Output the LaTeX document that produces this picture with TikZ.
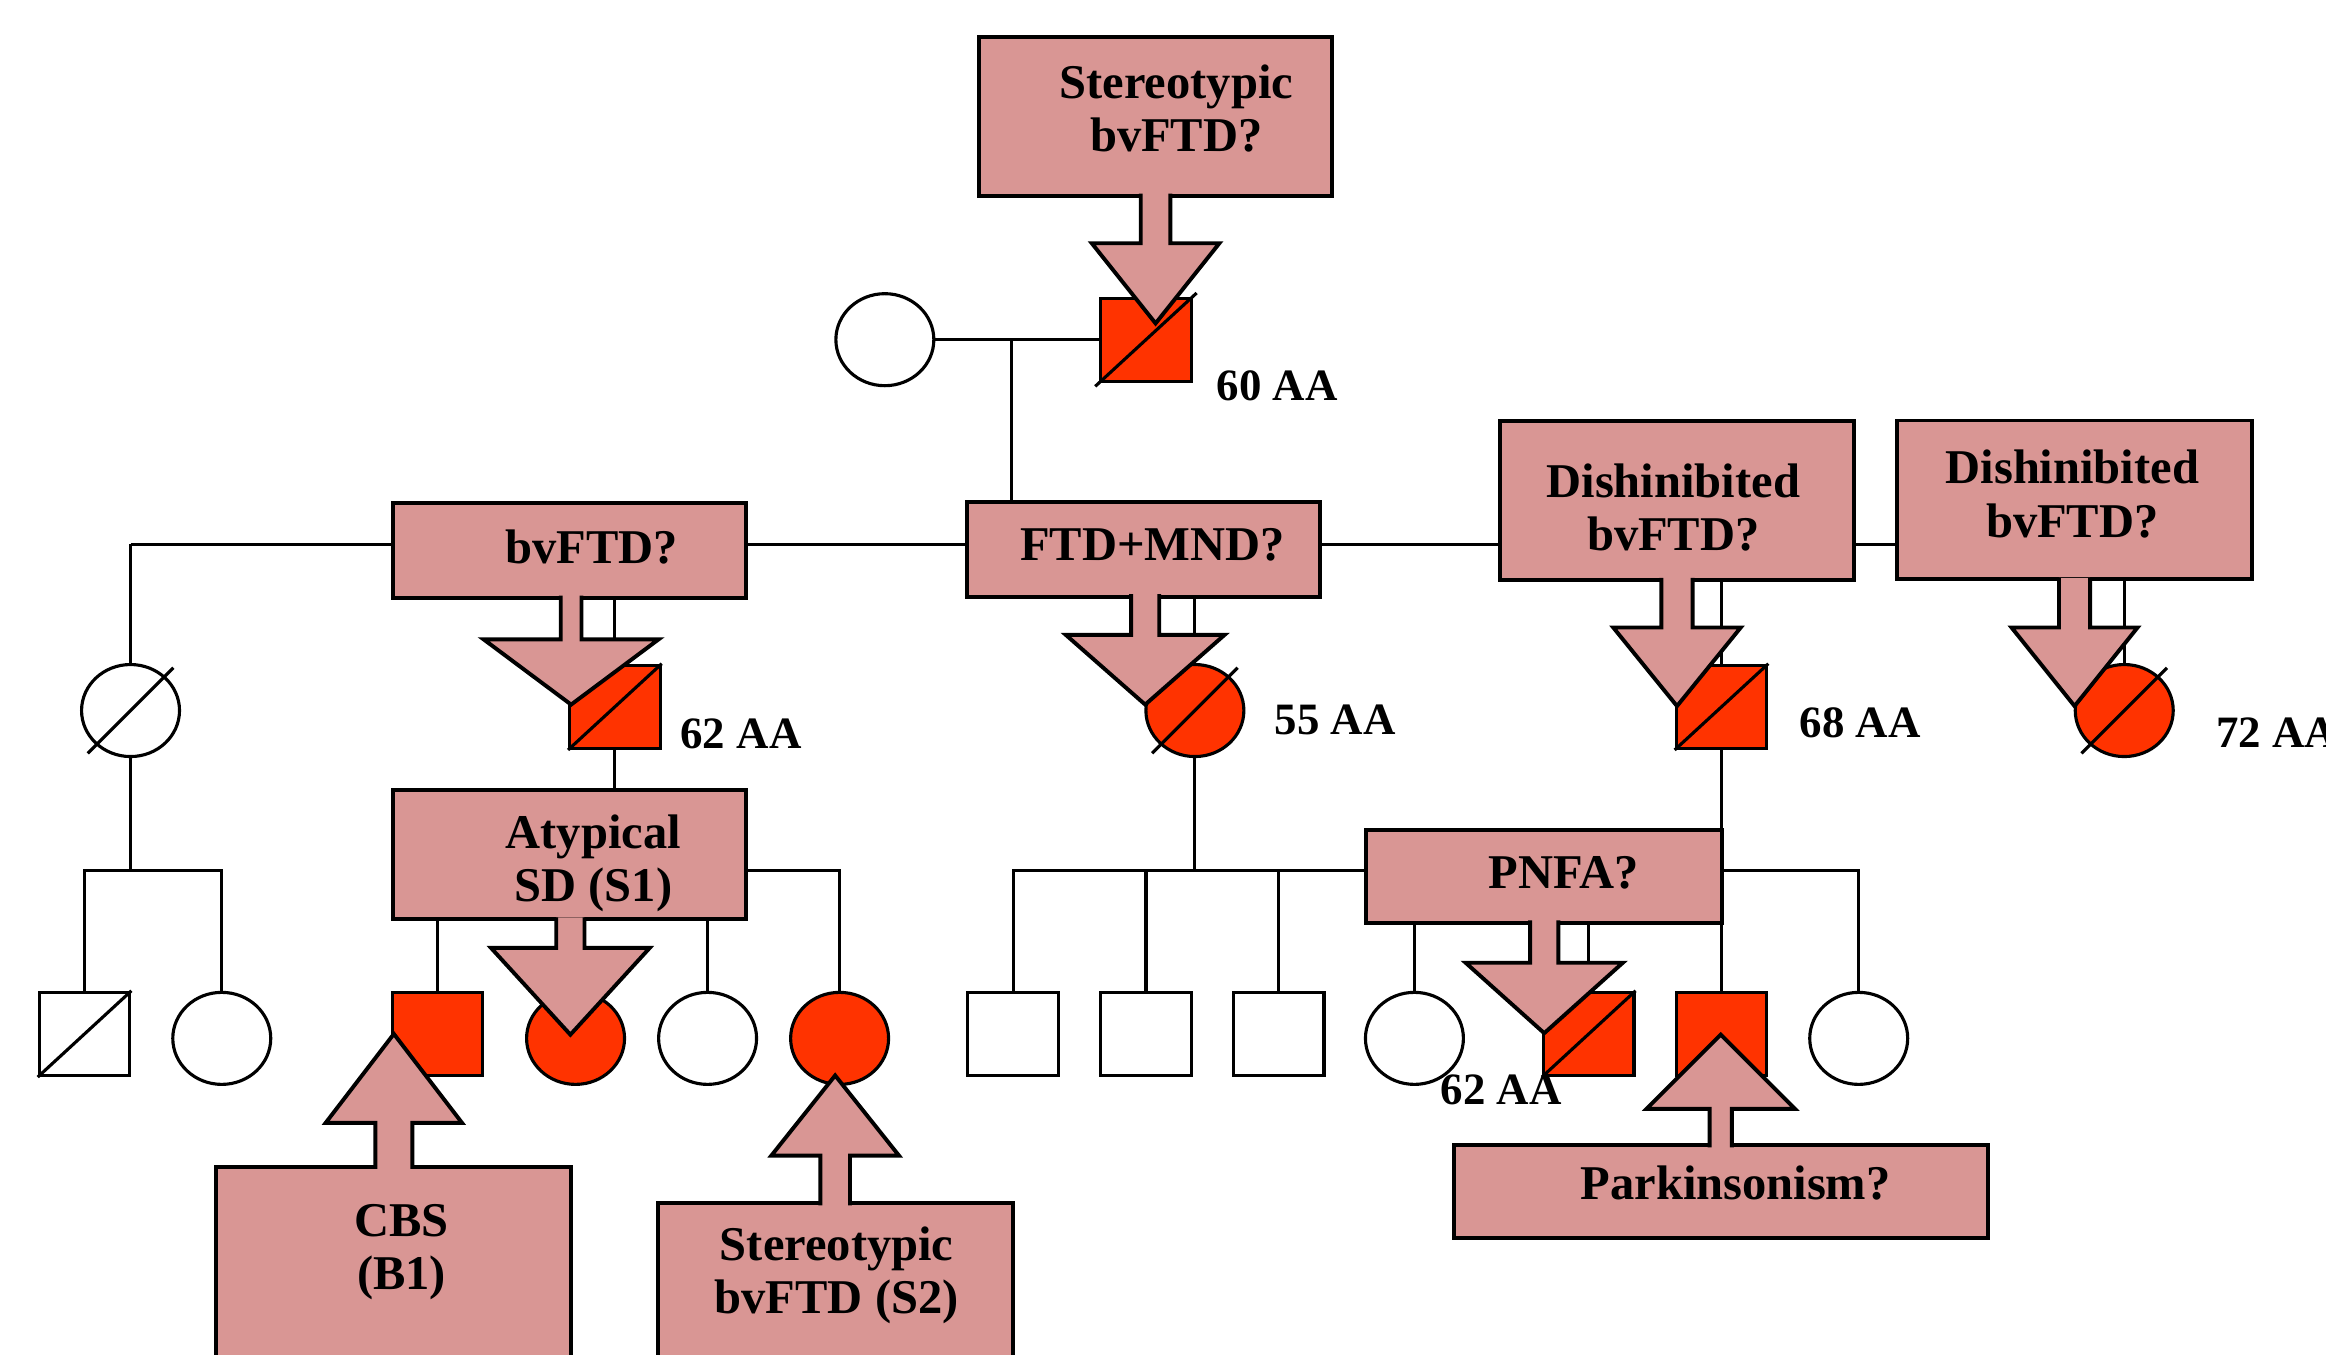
\documentclass[tikz,border=0pt]{standalone}
\usepackage{fontspec}
\setmainfont{Liberation Serif}
\usetikzlibrary{shapes.geometric}
\definecolor{boxpink}{RGB}{217,150,148}
\definecolor{affred}{RGB}{255,51,0}

\begin{document}
\begin{tikzpicture}[x=0.01cm, y=-0.01cm, line width=0.6pt,
    male/.style={draw, rectangle, minimum width=6.1mm, minimum height=5.6mm, inner sep=0pt},
    female/.style={draw, ellipse, minimum width=6.6mm, minimum height=6.2mm, inner sep=0pt},
    affected/.style={fill=affred},
    diagbox/.style={draw, fill=boxpink, line width=0.75pt, inner sep=0pt},
    diagtext/.style={font=\fontsize{9.3}{10.2}\selectfont\bfseries, align=center, inner sep=0pt},
    age/.style={font=\fontsize{8.6}{10}\selectfont\bfseries, inner sep=0pt},
    blockarrow/.style={draw, fill=boxpink, line width=0.75pt},
    longslash/.style={shorten <=-2.2pt, shorten >=-2.2pt}]
  \useasboundingbox (0,0) rectangle (1568,913);
  \clip (0,0) rectangle (1568,913);

  % persons
  \node[female] (gm) at (596.5,229) {};
  \node[male, affected] (gf) at (772.5,229) {};

  \node[female] (lw) at (88,479) {};
  \node[male, affected] (p62) at (414.5,476.5) {};
  \node[female, affected] (p55) at (805.5,479) {};
  \node[male, affected] (p68) at (1160.5,476.5) {};
  \node[female, affected] (p72) at (1432,479) {};

  \node[male] (c1) at (57,697) {};
  \node[female] (c2) at (149.5,700) {};
  \node[male, affected] (g1) at (295,697) {};
  \node[female, affected] (g2) at (388,700) {};
  \node[female] (g3) at (477,700) {};
  \node[female, affected] (g4) at (566,700) {};
  \node[male] (h1) at (683,697) {};
  \node[male] (h2) at (772.5,697) {};
  \node[male] (h3) at (862,697) {};
  \node[female] (h4) at (953.5,700) {};
  \node[male, affected] (h5) at (1071,697) {};
  \node[male, affected] (h6) at (1160.5,697) {};
  \node[female] (h7) at (1253,700) {};

  % deceased
  \draw[shorten <=-1pt, shorten >=-1pt] (gf.south west) -- (gf.north east);
  \draw[longslash] (lw.225) -- (lw.45);
  \draw (p62.south west) -- (p62.north east);
  \draw[longslash] (p55.225) -- (p55.45);
  \draw (p68.south west) -- (p68.north east);
  \draw[longslash] (p72.225) -- (p72.45);
  \draw (c1.south west) -- (c1.north east);
  \draw (h5.south west) -- (h5.north east);

  % pedigree lines
  \coordinate (m1) at (682,229);
  \coordinate (s2) at (88,367);
  \coordinate (s2end) at (1279,367);
  \draw (gm) -- (gf);
  \draw (m1) -- (m1 |- s2);
  \draw (s2) -- (s2end);
  \draw (s2) -- (lw);
  \draw (p62 |- s2) -- (p62);
  \draw (p55 |- s2) -- (p55);
  \draw (p68 |- s2) -- (p68);
  \draw (p72 |- s2) -- (p72);

  \coordinate (s3a) at (57,587);
  \draw (lw.south) -- (lw |- s3a);
  \draw (c1.north) -- (c1 |- s3a) -| (c2.north);

  \coordinate (s3c) at (295,587);
  \draw (p62.south) -- (p62 |- s3c);
  \draw (g1.north) -- (g1 |- s3c) -| (g4.north);
  \draw (g2 |- s3c) -- (g2.north);
  \draw (g3 |- s3c) -- (g3.north);

  \coordinate (s3d) at (683,587);
  \draw (p55.south) -- (p55 |- s3d);
  \draw (h1.north) -- (h1 |- s3d) -| (h7.north);
  \draw (h2 |- s3d) -- (h2.north);
  \draw (h3 |- s3d) -- (h3.north);
  \draw (h4 |- s3d) -- (h4.north);
  \draw (h5 |- s3d) -- (h5.north);
  \draw (p68.south) -- (h6.north);

  % phenotype boxes
  \node[diagbox, minimum width=23.8mm, minimum height=10.7mm] (topbox) at (779,78.5) {};
  \node[diagtext] (toptext) at (793,73) {Stereotypic\\bvFTD?};
  \node[diagbox, minimum width=23.8mm, minimum height=6.4mm] (bvbox) at (384,371) {};
  \node[diagtext] (bvtext) at (399,369) {bvFTD?};
  \node[diagbox, minimum width=23.8mm, minimum height=6.4mm] (ftdbox) at (771,370.5) {};
  \node[diagtext] (ftdtext) at (777,367) {FTD+MND?};
  \node[diagbox, minimum width=23.9mm, minimum height=10.7mm] (dishbox) at (1130.5,337.5) {};
  \node[diagtext] (dishtext) at (1128,342) {Dishinibited\\bvFTD?};
  \node[diagbox, minimum width=23.9mm, minimum height=10.7mm] (dishboxb) at (1398.5,337) {};
  \node[diagtext] (dishtextb) at (1397,333) {Dishinibited\\bvFTD?};
  \node[diagbox, minimum width=23.8mm, minimum height=8.7mm] (atypbox) at (384,576) {};
  \node[diagtext] (atyptext) at (400,582) {Atypical\\SD (S1)};
  \node[diagbox, minimum width=24mm, minimum height=6.25mm] (pnfabox) at (1041,590.75) {};
  \node[diagtext] (pnfatext) at (1054,588.6) {PNFA?};
  \node[diagbox, minimum width=36mm, minimum height=6.27mm] (parkbox) at (1160,803.3) {};
  \node[diagtext] (parktext) at (1170,797.6) {Parkinsonism?};
  \node[diagbox, minimum width=23.9mm, minimum height=20mm] (cbsbox) at (265.4,886.5) {};
  \node[diagtext] (cbstext) at (270.7,844) {CBS\\(B1)};
  \node[diagbox, minimum width=23.9mm, minimum height=20mm] (stbox) at (563.3,911) {};
  \node[diagtext] (sttext) at (564,860) {Stereotypic\\bvFTD (S2)};

  % block arrows
  \filldraw[blockarrow] (789,130.5) -- (789,164) -- (822,164) -- (779,218) -- (736,164) -- (769,164) -- (769,130.5);
  \filldraw[blockarrow] (392,401.5) -- (392,431) -- (444,431) -- (385,475) -- (326,431) -- (378,431) -- (378,401.5);
  \filldraw[blockarrow] (781.5,400.5) -- (781.5,428) -- (825.5,428) -- (772,475) -- (718.5,428) -- (762.5,428) -- (762.5,400.5);
  \filldraw[blockarrow] (1141,389.5) -- (1141,423) -- (1173.5,423) -- (1130.5,476) -- (1087.5,423) -- (1120,423) -- (1120,389.5);
  \filldraw[blockarrow] (1409,389.5) -- (1409,423) -- (1441,423) -- (1398.5,476) -- (1356,423) -- (1388,423) -- (1388,389.5);
  \filldraw[blockarrow] (394,618.5) -- (394,639) -- (438,639) -- (384.5,697.5) -- (331,639) -- (375,639) -- (375,618.5);
  \filldraw[blockarrow] (1050.5,620.5) -- (1050.5,649) -- (1094,649) -- (1041,696.5) -- (988,649) -- (1031.5,649) -- (1031.5,620.5);
  \filldraw[blockarrow] (278,788) -- (278,757) -- (311.5,757) -- (265.5,697) -- (219.5,757) -- (253,757) -- (253,788);
  \filldraw[blockarrow] (573,812.5) -- (573,779) -- (606,779) -- (563,725) -- (520,779) -- (553,779) -- (553,812.5);
  \filldraw[blockarrow] (1167.5,773.5) -- (1167.5,747.5) -- (1210,747.5) -- (1160,697.5) -- (1110,747.5) -- (1152.5,747.5) -- (1152.5,773.5);

  % ages
  \node[age] (agegf) at (861,260) {60 AA};
  \node[age] (agep62) at (499.5,495) {62 AA};
  \node[age] (agep55) at (900,485) {55 AA};
  \node[age] (agep68) at (1254,487) {68 AA};
  \node[age, anchor=west] (agep72) at (1493,494) {72 AA};
  \node[age] (ageh5) at (1012,735) {62 AA};
\end{tikzpicture}
\end{document}
